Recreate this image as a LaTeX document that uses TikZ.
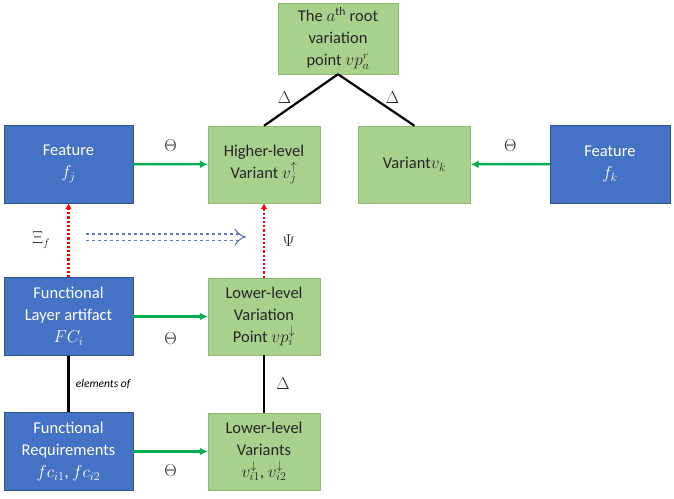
\documentclass[tikz,border=0pt]{standalone}
\usepackage{fontspec}
\setmainfont{Carlito}
\usetikzlibrary{arrows.meta}
\usetikzlibrary{positioning}

\definecolor{featblue}{HTML}{4472C4}
\definecolor{featedge}{HTML}{2F528F}
\definecolor{varfill}{HTML}{A9D18E}
\definecolor{varedge}{HTML}{8FBC6E}
\definecolor{thetagreen}{HTML}{00B050}
\definecolor{hintblue}{HTML}{5B7DB1}

\begin{document}
\begin{tikzpicture}[x=1pt, y=-1pt,
  feat/.style={draw=featedge, fill=featblue, text=white, align=center,
    minimum width=129pt, minimum height=78pt, inner sep=2pt,
    font=\fontsize{16.5}{22}\selectfont},
  var/.style={draw=varedge, fill=varfill, text=black!85, align=center,
    minimum width=112pt, minimum height=77pt, inner sep=2pt,
    font=\fontsize{16.5}{22}\selectfont},
  theta/.style={thetagreen, line width=2.2pt, -{Latex[length=8pt,width=8pt]}},
  trace/.style={red, line width=2.2pt, dotted, -{Latex[length=6pt,width=7pt]}},
  link/.style={black, line width=2.2pt},
  lbl/.style={font=\fontsize{16}{18}\selectfont, text=black!85}]
\useasboundingbox (0,0) rectangle (674,498);

% top row
\node[var, minimum width=120pt, minimum height=71pt] (root) at (338,38.5)
  {The $a^{\mathrm{th}}$ root\\variation\\point $vp_a^r$};
\node[feat] (fj) at (68.5,164) {Feature\\$f_j$};
\node[var] (hv) at (264,164.5) {Higher-level\\Variant $v_j^{\uparrow}$};
\node[var] (vk) at (414.5,164.5) {Variant$v_k$};
\node[feat, minimum width=120pt] (fk) at (610,164) {Feature\\$f_k$};

% lower rows
\node[feat] (fl) at (68.5,316.5) {Functional\\Layer artifact\\$FC_i$};
\node[var] (lvp) at (264,316.5) {Lower-level\\Variation\\Point $vp_i^{\downarrow}$};
\node[feat] (fr) at (68.5,451.5) {Functional\\Requirements\\$fc_{i1}$, $fc_{i2}$};
\node[var] (lv) at (264,451.5) {Lower-level\\Variants\\$v_{i1}^{\downarrow}$, $v_{i2}^{\downarrow}$};

% variation point tree
\draw[link] (root.south) -- (hv.north) node[lbl, pos=0.45, left=9pt] {$\Delta$};
\draw[link] (root.south) -- (vk.north) node[lbl, pos=0.45, right=9pt] {$\Delta$};
\draw[link] (lvp) -- (lv) node[lbl, midway, right=8pt] {$\Delta$};
\draw[link] (fl) -- (fr) node[midway, right=3pt, font=\fontsize{11.5}{13}\selectfont\itshape] {elements of};

% theta mappings
\draw[theta] (fj) -- (hv) node[lbl, midway, above=8pt] {$\Theta$};
\draw[theta] (fk) -- (vk) node[lbl, midway, above=8pt] {$\Theta$};
\draw[theta] (fl) -- (lvp) node[lbl, midway, below=12pt] {$\Theta$};
\draw[theta] (fr) -- (lv) node[lbl, midway, below=9pt] {$\Theta$};

% traceability
\draw[trace] (fl) -- (fj) node[lbl, midway, left=14pt] {$\Xi_f$};
\draw[trace] (lvp) -- (hv) node[lbl, midway, right=14pt] {$\Psi$};

\coordinate (hintA) at (86,237);
\coordinate (hintB) at (246,237);
\draw[hintblue, double, double distance=5pt, line width=1.1pt, dashed,
  -{Implies[length=7pt]}] (hintA) -- (hintB);
\end{tikzpicture}
\end{document}
